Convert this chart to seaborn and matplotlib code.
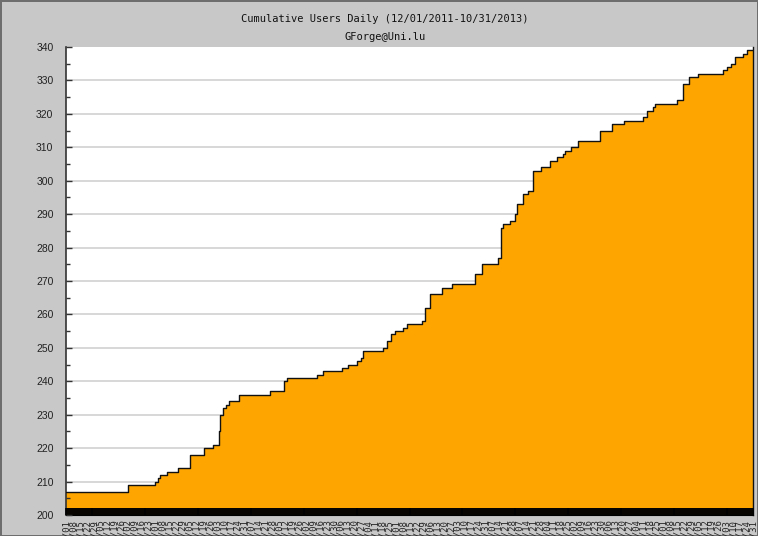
import pandas as pd
import matplotlib.pyplot as plt
import matplotlib.dates as mdates
from matplotlib.ticker import MultipleLocator
import seaborn as sns

# Config
START, END = "2011-12-01", "2013-10-31"
Y_MIN, Y_MAX = 200, 340
TITLE = "Cumulative Users Daily (12/01/2011-10/31/2013)"
SUBTITLE = "GForge@Uni.lu"

# Cumulative user count: date where each new level starts
step_dates = [
    "2011-12-01", "2012-02-02", "2012-03-01", "2012-03-04", "2012-03-06",
    "2012-03-13", "2012-03-24", "2012-04-05", "2012-04-20", "2012-04-29",
    "2012-05-05", "2012-05-06", "2012-05-09", "2012-05-12", "2012-05-15",
    "2012-05-25", "2012-06-26", "2012-07-10", "2012-07-13", "2012-08-13",
    "2012-08-19", "2012-09-07", "2012-09-13", "2012-09-23", "2012-09-27",
    "2012-09-29", "2012-10-19", "2012-10-23", "2012-10-27", "2012-10-31",
    "2012-11-08", "2012-11-12", "2012-11-28", "2012-12-01", "2012-12-06",
    "2012-12-18", "2012-12-28", "2013-01-21", "2013-01-28", "2013-02-13",
    "2013-02-16", "2013-02-18", "2013-02-25", "2013-03-03", "2013-03-05",
    "2013-03-11", "2013-03-16", "2013-03-21", "2013-03-29", "2013-04-07",
    "2013-04-14", "2013-04-20", "2013-04-22", "2013-04-29", "2013-05-06",
    "2013-05-28", "2013-06-09", "2013-06-22", "2013-07-11", "2013-07-15",
    "2013-07-21", "2013-07-23", "2013-08-15", "2013-08-21", "2013-08-27",
    "2013-09-05", "2013-09-30", "2013-10-05", "2013-10-09", "2013-10-13",
    "2013-10-21", "2013-10-25", "2013-10-31",
]
step_users = [
    207, 209, 210, 211, 212,
    213, 214, 218, 220, 221,
    225, 230, 232, 233, 234,
    236, 237, 240, 241, 242,
    243, 244, 245, 246, 247,
    249, 250, 252, 254, 255,
    256, 257, 258, 262, 266,
    268, 269, 272, 275, 277,
    286, 287, 288, 290, 293,
    296, 297, 303, 304, 306,
    307, 308, 309, 310, 312,
    315, 317, 318, 319, 321,
    322, 323, 324, 329, 331,
    332, 333, 334, 335, 337,
    338, 339, 339,
]

df = pd.DataFrame({"Date": pd.to_datetime(step_dates), "Users": step_users})

sns.set_style("white")
plt.rcParams["font.family"] = ["Liberation Sans", "DejaVu Sans"]

W, H = 758, 536
fig = plt.figure(figsize=(W / 100, H / 100), dpi=100,
                 facecolor="#c8c8c8", edgecolor="#6e6e6e", linewidth=1.0)
ax = fig.add_axes([66 / W, 1 - 515 / H, 687 / W, 468 / H])
ax.set_facecolor("white")

# grid lines sit behind the filled area, ticks stay on top of it
for y in range(Y_MIN + 10, Y_MAX, 10):
    ax.axhline(y, color="#d4d4d4", lw=1.3, zorder=1)

# filled step area + outline
ax.fill_between(df["Date"], df["Users"], Y_MIN, step="post",
                color="#ffa500", lw=0, zorder=2)
sns.lineplot(data=df, x="Date", y="Users", drawstyle="steps-post",
             color="#111111", lw=1.0, ax=ax, zorder=3)

ax.set_xlim(pd.Timestamp(START), pd.Timestamp(END))
ax.set_ylim(Y_MIN, Y_MAX)
ax.set_xlabel("")
ax.set_ylabel("")
ax.grid(False)
ax.set_axisbelow(False)

# y axis
ax.yaxis.set_major_locator(MultipleLocator(10))
ax.yaxis.set_minor_locator(MultipleLocator(5))
ax.tick_params(axis="y", which="major", left=True, direction="in", length=4.5,
               width=1, color="#333333", pad=9, labelsize=7.5,
               labelcolor="#222222")
ax.tick_params(axis="y", which="minor", left=True, direction="in", length=3,
               width=1, color="#333333")

# x axis: weekly labels, daily ticks (they merge into a black band)
weeks = pd.date_range(START, END, freq="7D")
ax.set_xticks(weeks)
ax.set_xticklabels([d.strftime("%m/%d") for d in weeks], rotation=90,
                   family="DejaVu Sans Mono", fontsize=6.5)
ax.xaxis.set_minor_locator(mdates.DayLocator())
ax.tick_params(axis="x", which="both", bottom=True, direction="in", length=5,
               width=1.2, color="black", pad=3)

ax.spines["top"].set_visible(False)
ax.spines["left"].set_color("#333333")
ax.spines["left"].set_linewidth(1.2)
ax.spines["right"].set_color("#111111")
ax.spines["right"].set_linewidth(1.0)
ax.spines["bottom"].set_color("black")

fig.text(385 / W, 1 - 19 / H, TITLE, ha="center", va="center",
         family="DejaVu Sans Mono", fontsize=7.5, color="#111111")
fig.text(385 / W, 1 - 37 / H, SUBTITLE, ha="center", va="center",
         family="DejaVu Sans Mono", fontsize=7.5, color="#111111")

fig.savefig("out.png", dpi=100, facecolor=fig.get_facecolor(),
            edgecolor=fig.get_edgecolor())
